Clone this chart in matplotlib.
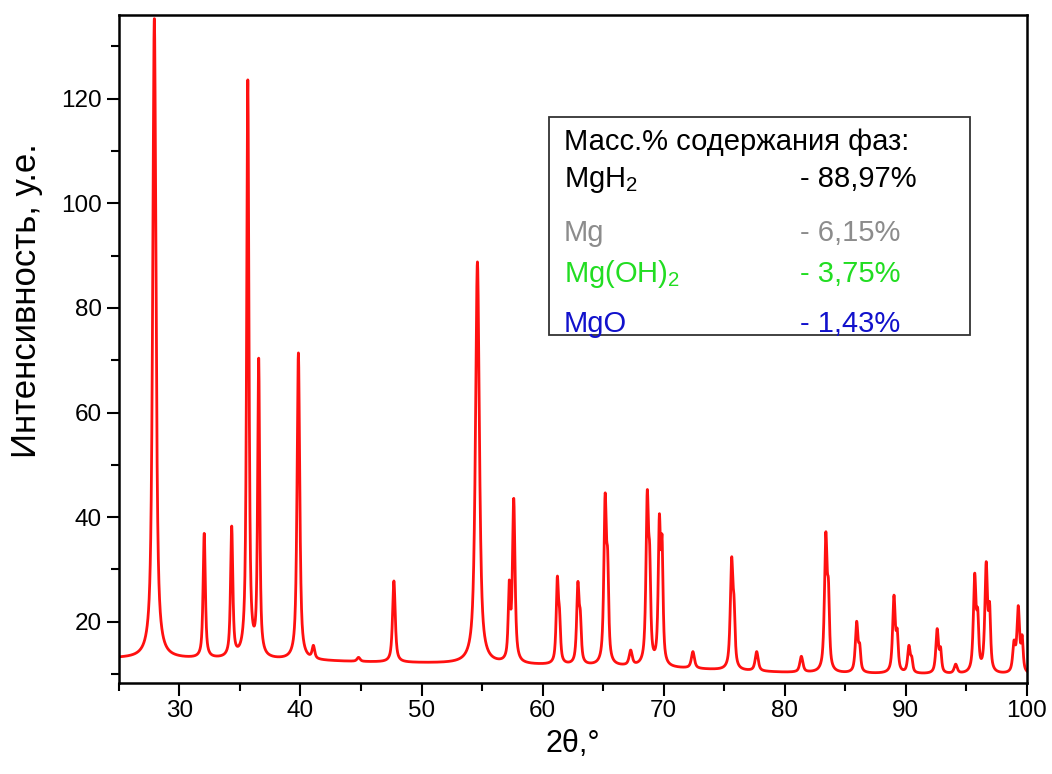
import numpy as np
import matplotlib
matplotlib.use("Agg")
import matplotlib.pyplot as plt
from matplotlib.patches import Rectangle
from matplotlib.ticker import MultipleLocator

plt.rcParams['font.family'] = ['Liberation Sans', 'DejaVu Sans']
plt.rcParams['mathtext.fontset'] = 'custom'
plt.rcParams['mathtext.rm'] = 'Liberation Sans'
plt.rcParams['mathtext.it'] = 'Liberation Sans:italic'

# peak list: position (2theta), intensity at the top, FWHM
peak_pos = [27.93, 32.05, 34.32, 35.65, 36.55, 39.83, 41.07, 44.80, 47.72,
            54.62, 57.25, 57.62, 61.22, 61.40, 62.92, 63.12, 65.17, 65.38,
            67.28, 68.65, 68.85, 69.65, 69.87, 72.42, 75.62, 75.82, 77.69,
            81.38, 83.40, 83.62, 85.95, 86.20, 89.03, 89.30, 90.27, 90.50,
            92.60, 92.88, 94.13, 95.70, 95.95, 96.65, 96.93, 98.95, 99.30,
            99.62]
peak_top = [135.3, 36.9, 38.3, 123.6, 70.4, 71.4, 15.5, 13.2, 27.8,
            88.8, 28.0, 43.6, 28.7, 22.6, 27.7, 22.2, 44.6, 33.7,
            14.6, 45.2, 34.7, 40.6, 36.6, 14.3, 32.4, 24.8, 14.3,
            13.4, 37.2, 28.0, 20.1, 15.9, 25.1, 18.7, 15.5, 13.4,
            18.7, 15.2, 11.9, 29.3, 22.6, 31.5, 23.8, 16.5, 23.1,
            17.5]
peak_fwhm = [0.32, 0.22, 0.22, 0.22, 0.20, 0.26, 0.25, 0.30, 0.26,
             0.38, 0.20, 0.25, 0.22, 0.20, 0.24, 0.20, 0.25, 0.20,
             0.30, 0.25, 0.20, 0.22, 0.20, 0.30, 0.26, 0.20, 0.30,
             0.30, 0.26, 0.20, 0.26, 0.20, 0.26, 0.20, 0.26, 0.20,
             0.26, 0.20, 0.30, 0.26, 0.20, 0.26, 0.20, 0.26, 0.26,
             0.20]

# background level
bg_x = [25, 30, 40, 45, 50, 60, 66, 72, 76, 80, 85, 90, 94, 100]
bg_y = [13.0, 12.9, 12.6, 12.3, 12.1, 11.7, 11.4, 11.0, 10.6, 10.3, 10.1, 10.0, 9.9, 9.9]

phases = ["MgH$_2$", "Mg", "Mg(OH)$_2$", "MgO"]
mass_pct = ["88,97", "6,15", "3,75", "1,43"]
phase_colors = ["black", "#8c8c8c", "#22dd22", "#1111cc"]

eta = 0.75


def profile(x, x0, w):
    u = 2 * (x - x0) / w
    return eta / (1 + u ** 2) + (1 - eta) * np.exp(-np.log(2) * u ** 2)


tt = np.linspace(25, 100, 7501)
pos = np.array(peak_pos)
top = np.array(peak_top)
fw = np.array(peak_fwhm)

# amplitudes so that the summed pattern passes through the peak tops
M = profile(pos[:, None], pos[None, :], fw[None, :])
amp = np.linalg.solve(M, top - np.interp(pos, bg_x, bg_y))
amp = np.clip(amp, 0, None)

intensity = np.interp(tt, bg_x, bg_y)
for a, p, w in zip(amp, pos, fw):
    intensity = intensity + a * profile(tt, p, w)

fig = plt.figure(figsize=(10.52, 7.74), dpi=100)
ax = fig.add_axes([0.113, 0.1176, 0.863, 0.863])
ax.plot(tt, intensity, color='#ff1010', lw=2.0)

ax.set_xlim(25, 100)
ax.set_ylim(8.3, 136)
ax.xaxis.set_major_locator(MultipleLocator(10))
ax.xaxis.set_minor_locator(MultipleLocator(5))
ax.yaxis.set_major_locator(MultipleLocator(20))
ax.yaxis.set_minor_locator(MultipleLocator(10))
ax.tick_params(which='both', direction='out', width=1.5, top=False, right=False)
ax.tick_params(which='major', length=9, labelsize=17.5)
ax.tick_params(which='minor', length=5.5)
for s in ax.spines.values():
    s.set_linewidth(1.8)

ax.set_xlabel("2θ,°", fontsize=22, labelpad=5)
ax.set_ylabel("Интенсивность, у.е.", fontsize=25)
ax.yaxis.set_label_coords(-0.084, 0.572)

# phase content box
W, H = 1052, 774
fig.patches.append(Rectangle((549 / W, 1 - 335 / H), 421 / W, 218 / H,
                             transform=fig.transFigure, fill=False,
                             edgecolor='#333333', lw=1.3))
fig.text(564 / W, 1 - 150 / H, "Масс.% содержания фаз:", fontsize=21,
         va='baseline', ha='left')
row_base = [187, 241, 282, 332]
for name, val, c, yb in zip(phases, mass_pct, phase_colors, row_base):
    fig.text(564 / W, 1 - yb / H, name, fontsize=21, color=c,
             va='baseline', ha='left')
    fig.text(800 / W, 1 - yb / H, "- " + val + "%", fontsize=21, color=c,
             va='baseline', ha='left')

fig.savefig("out.png", dpi=100)
